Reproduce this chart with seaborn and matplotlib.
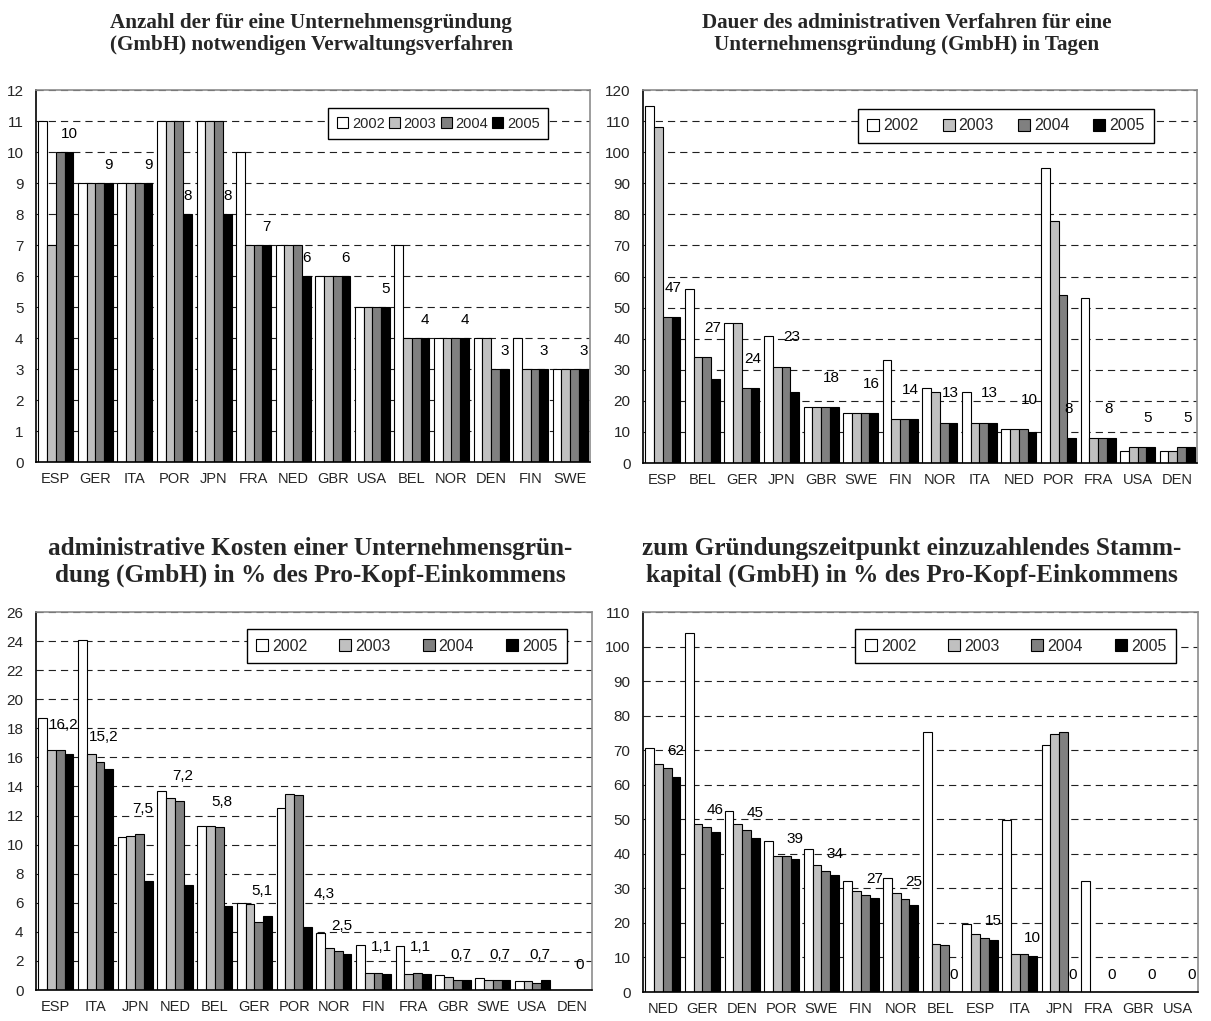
import matplotlib
matplotlib.use("Agg")
import matplotlib.pyplot as plt
from matplotlib.patches import Patch
import numpy as np
import pandas as pd
import seaborn as sns

# ---------------------------------------------------------------- data
years = ["2002", "2003", "2004", "2005"]

# Anzahl der Verwaltungsverfahren
proc_countries = ["ESP", "GER", "ITA", "POR", "JPN", "FRA", "NED",
                  "GBR", "USA", "BEL", "NOR", "DEN", "FIN", "SWE"]
proc_2002 = [11, 9, 9, 11, 11, 10, 7, 6, 5, 7, 4, 4, 4, 3]
proc_2003 = [7, 9, 9, 11, 11, 7, 7, 6, 5, 4, 4, 4, 3, 3]
proc_2004 = [10, 9, 9, 11, 11, 7, 7, 6, 5, 4, 4, 3, 3, 3]
proc_2005 = [10, 9, 9, 8, 8, 7, 6, 6, 5, 4, 4, 3, 3, 3]

# Dauer in Tagen
days_countries = ["ESP", "BEL", "GER", "JPN", "GBR", "SWE", "FIN",
                  "NOR", "ITA", "NED", "POR", "FRA", "USA", "DEN"]
days_2002 = [115, 56, 45, 41, 18, 16, 33, 24, 23, 11, 95, 53, 4, 4]
days_2003 = [108, 34, 45, 31, 18, 16, 14, 23, 13, 11, 78, 8, 5, 4]
days_2004 = [47, 34, 24, 31, 18, 16, 14, 13, 13, 11, 54, 8, 5, 5]
days_2005 = [47, 27, 24, 23, 18, 16, 14, 13, 13, 10, 8, 8, 5, 5]

# Kosten in % des Pro-Kopf-Einkommens
cost_countries = ["ESP", "ITA", "JPN", "NED", "BEL", "GER", "POR",
                  "NOR", "FIN", "FRA", "GBR", "SWE", "USA", "DEN"]
cost_2002 = [18.7, 24.1, 10.5, 13.7, 11.3, 6.0, 12.5, 3.9, 3.1, 3.0, 1.0, 0.8, 0.6, 0.0]
cost_2003 = [16.5, 16.2, 10.6, 13.2, 11.3, 5.9, 13.5, 2.9, 1.2, 1.1, 0.9, 0.7, 0.6, 0.0]
cost_2004 = [16.5, 15.7, 10.7, 13.0, 11.2, 4.7, 13.4, 2.7, 1.2, 1.2, 0.7, 0.7, 0.5, 0.0]
cost_2005 = [16.2, 15.2, 7.5, 7.2, 5.8, 5.1, 4.3, 2.5, 1.1, 1.1, 0.7, 0.7, 0.7, 0.0]

# Stammkapital in % des Pro-Kopf-Einkommens
cap_countries = ["NED", "GER", "DEN", "POR", "SWE", "FIN", "NOR",
                 "BEL", "ESP", "ITA", "JPN", "FRA", "GBR", "USA"]
cap_2002 = [70.7, 103.8, 52.4, 43.6, 41.5, 32.1, 33.0, 75.3, 19.6, 49.7, 71.6, 32.1, 0, 0]
cap_2003 = [66.1, 48.6, 48.6, 39.4, 36.9, 29.2, 28.8, 14.0, 16.9, 10.9, 74.8, 0, 0, 0]
cap_2004 = [64.9, 47.8, 47.0, 39.4, 35.1, 28.0, 27.0, 13.5, 15.6, 10.9, 75.3, 0, 0, 0]
cap_2005 = [62.2, 46.2, 44.6, 38.6, 33.8, 27.1, 25.1, 0, 15.0, 10.4, 0, 0, 0, 0]

titles = [
    "Anzahl der für eine Unternehmensgründung\n(GmbH) notwendigen Verwaltungsverfahren",
    "Dauer des administrativen Verfahren für eine\nUnternehmensgründung (GmbH) in Tagen",
    "administrative Kosten einer Unternehmensgrün-\ndung (GmbH) in % des Pro-Kopf-Einkommens",
    "zum Gründungszeitpunkt einzuzahlendes Stamm-\nkapital (GmbH) in % des Pro-Kopf-Einkommens",
]

# ---------------------------------------------------------------- style
sns.set_theme(style="white")
plt.rcParams["font.family"] = ["Liberation Sans", "DejaVu Sans"]
plt.rcParams["axes.unicode_minus"] = False

palette = {"2002": "#FFFFFF", "2003": "#C0C0C0", "2004": "#808080", "2005": "#000000"}

W, H = 1211, 1021
fig = plt.figure(figsize=(W / 100, H / 100), dpi=100)


def px_axes(left, top, right, bottom):
    return fig.add_axes([left / W, 1 - bottom / H, (right - left) / W, (bottom - top) / H])


def fmt_int(v):
    return f"{v:.0f}"


def fmt_dec(v):
    return "0" if v == 0 else f"{v:.1f}".replace(".", ",")


def panel(ax, countries, series, ymax, step, fmt, pad, dx, leg_anchor, colsp, leg_fs):
    df = pd.DataFrame({
        "Land": countries * len(years),
        "Jahr": [y for y in years for _ in countries],
        "Wert": [v for s in series for v in s],
    })
    sns.barplot(data=df, x="Land", y="Wert", hue="Jahr", order=countries,
                hue_order=years, palette=palette, width=0.885, dodge=True,
                edgecolor="black", linewidth=0.8, saturation=1,
                legend=False, ax=ax, zorder=2)

    ax.set_ylim(0, ymax)
    ax.set_xlim(-0.5, len(countries) - 0.5)
    ax.set_yticks(np.arange(0, ymax + step / 2, step))
    ax.yaxis.grid(True, linestyle=(0, (6.5, 4.5)), color="#202020", linewidth=0.8)
    ax.xaxis.grid(False)
    ax.set_axisbelow(True)
    ax.set_xlabel("")
    ax.set_ylabel("")
    ax.tick_params(axis="y", length=0, pad=9, labelsize=11)
    ax.tick_params(axis="x", length=0, pad=7, labelsize=10.5)
    for side in ("left", "bottom"):
        ax.spines[side].set_color("black")
        ax.spines[side].set_linewidth(1.2)
    for side in ("top", "right"):
        ax.spines[side].set_color("#8c8c8c")
        ax.spines[side].set_linewidth(1.2)
        ax.spines[side].set_visible(True)

    # value labels for the latest year: above the 2005 bar, clear of the
    # 2004 bar; beside it when the 2004 bar towers over it
    s04, s05 = series[2], series[3]
    for bar, v4, v5 in zip(ax.containers[3], s04, s05):
        txt = fmt(v5)
        x = bar.get_x() + bar.get_width() / 2
        shift = dx
        lift = pad
        if len(txt) > 1 and v4 > 2 * v5:
            base = v5
            shift = 12
            lift = pad + 6
        elif len(txt) > 1:
            base = max(v4, v5)
        else:
            base = v5
        ax.annotate(txt, (x, base), xytext=(shift, lift), textcoords="offset points",
                    ha="center", va="bottom", fontsize=11, color="black",
                    annotation_clip=False, zorder=3)

    handles = [Patch(facecolor=palette[y], edgecolor="black", linewidth=0.8, label=y)
               for y in years]
    leg = ax.legend(handles=handles, loc="upper right", bbox_to_anchor=leg_anchor,
                    ncol=4, frameon=True, fancybox=False, fontsize=leg_fs,
                    handlelength=0.75, handleheight=0.75, handletextpad=0.25,
                    columnspacing=colsp, borderpad=0.6, borderaxespad=0)
    leg.get_frame().set_edgecolor("black")
    leg.get_frame().set_linewidth(1.0)
    leg.get_frame().set_facecolor("white")
    leg.get_frame().set_alpha(1)


ax1 = px_axes(36, 90, 590, 462)
ax2 = px_axes(643, 90, 1197, 463)
ax3 = px_axes(36, 612, 592, 990)
ax4 = px_axes(643, 612, 1198, 992)

panel(ax1, proc_countries, [proc_2002, proc_2003, proc_2004, proc_2005],
      12, 1, fmt_int, 8, 0, (0.925, 0.952), 0.3, 10.5)
panel(ax2, days_countries, [days_2002, days_2003, days_2004, days_2005],
      120, 10, fmt_int, 16, -2, (0.923, 0.95), 1.5, 11.5)
panel(ax3, cost_countries, [cost_2002, cost_2003, cost_2004, cost_2005],
      26, 2, fmt_dec, 13, -4, (0.955, 0.955), 2.0, 11.5)
panel(ax4, cap_countries, [cap_2002, cap_2003, cap_2004, cap_2005],
      110, 10, fmt_int, 7, 0, (0.96, 0.955), 2.0, 11.5)

title_specs = [(311, 34, 15.2), (907, 34, 15.2), (310, 562, 18.2), (912, 562, 18.2)]
for t, (cx, cy, fs) in zip(titles, title_specs):
    fig.text(cx / W, 1 - cy / H, t, ha="center", va="center",
             family=["Liberation Serif", "DejaVu Serif"], fontweight="bold",
             fontsize=fs, linespacing=1.15)

fig.savefig("out.png", dpi=100, facecolor="white")
